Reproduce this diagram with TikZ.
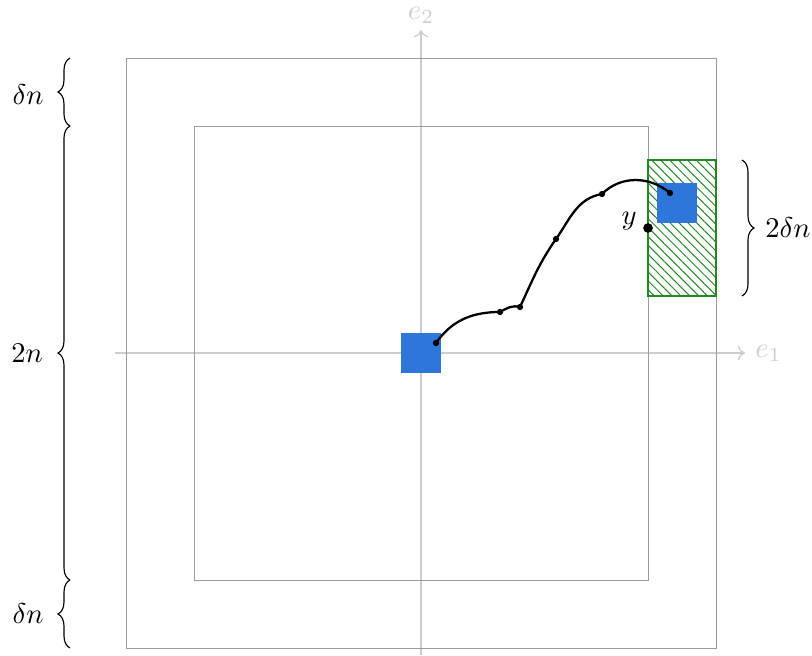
\documentclass[tikz,border=0pt]{standalone}
\usetikzlibrary{decorations.pathreplacing,patterns.meta,arrows.meta}
\definecolor{sqblue}{RGB}{46,118,217}
\definecolor{hgreen}{RGB}{34,136,34}
\definecolor{axgray}{RGB}{205,205,205}
\definecolor{boxgray}{RGB}{155,155,155}
\tikzset{
  axisline/.style={axgray, line width=0.45pt, -{To[length=2.5pt,width=5pt]}},
  axislabel/.style={text=axgray, inner sep=1pt},
  square/.style={boxgray, line width=0.35pt},
  bluebox/.style={fill=sqblue, draw=none},
  bracedec/.style={decorate, decoration={brace, amplitude=4.2pt}, line width=0.4pt},
  pathdot/.style={circle, fill=black, inner sep=0pt, minimum size=2.2pt},
  bigdot/.style={circle, fill=black, inner sep=0pt, minimum size=3.4pt},
  walk/.style={line width=0.8pt}
}
\begin{document}
\begin{tikzpicture}[x=0.35pt,y=0.35pt]
\useasboundingbox (0,0) rectangle (812,655);
% axes
\coordinate (xa) at (115,302);
\coordinate (xb) at (745,302);
\coordinate (ya) at (421,0);
\coordinate (yb) at (421,625);
\draw[axisline] (xa) -- (xb);
\draw[axisline] (ya) -- (yb);
\node[axislabel, anchor=west] (e1) at (752,302) {$e_1$};
\node[axislabel, anchor=north, inner sep=0.5pt] (e2) at (421,650) {$e_2$};
% squares
\draw[square] (126,7) rectangle (716,597);
\draw[square] (194,75) rectangle (648,529);
% green hatched box
\fill[pattern={Lines[angle=-45,distance=2.2pt,line width=0.35pt]}, pattern color=hgreen] (648,359) rectangle (716,495);
\draw[hgreen, line width=0.95pt] (648,359) rectangle (716,495);
% blue boxes
\fill[bluebox] (401,282) rectangle (441,322);
\fill[bluebox] (657,432) rectangle (697,472);
% walk
\node[pathdot] (p0) at (436,312) {};
\node[pathdot] (p1) at (500,343) {};
\node[pathdot] (p2) at (520,348) {};
\node[pathdot] (p3) at (556,416) {};
\node[pathdot] (p4) at (602,461) {};
\node[pathdot] (p5) at (670,462) {};
\draw[walk] (p0.center) to[out=55,in=180] (p1.center)
  to[out=30,in=165] (p2.center)
  to[out=65,in=235] (p3.center)
  to[out=55,in=190] (p4.center)
  to[out=45,in=140] (p5.center);
\node[bigdot] (y) at (648,427) {};
\node[anchor=east, inner sep=1pt] (ylab) at (640,434) {$y$};
% braces
\coordinate (rb1) at (742,495);
\coordinate (rb2) at (742,359);
\draw[bracedec] (rb1) -- (rb2);
\node[anchor=west, inner sep=1pt] (l2dn) at (762,427) {$2\delta n$};
\coordinate (lb0) at (70,7);
\coordinate (lb1) at (70,75);
\coordinate (lb2) at (70,529);
\coordinate (lb3) at (70,597);
\draw[bracedec] (lb0) -- (lb1);
\draw[bracedec] (lb1) -- (lb2);
\draw[bracedec] (lb2) -- (lb3);
\node (ldn1) at (28,560) {$\delta n$};
\node (l2n) at (27,302) {$2n$};
\node (ldn2) at (28,41) {$\delta n$};
\end{tikzpicture}
\end{document}
